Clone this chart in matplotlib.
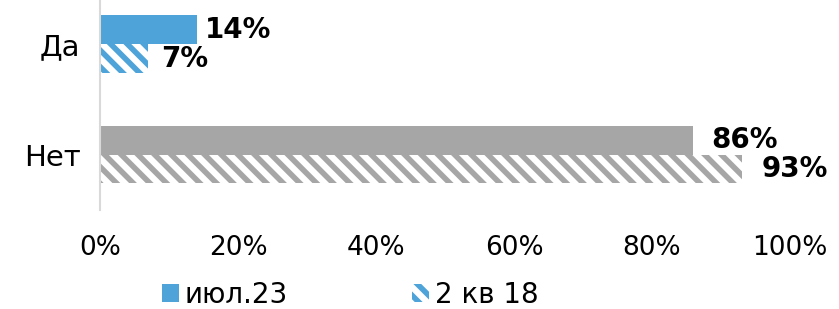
import numpy as np
import matplotlib
matplotlib.use('Agg')
import matplotlib.pyplot as plt
from matplotlib.patches import Patch

# data
categories = ['Да', 'Нет']
jul23 = [14, 86]
q2_18 = [7, 93]
series_names = ['июл.23', '2 кв 18']
cat_colors = ['#4EA3D8', '#A6A6A6']
xticks = [0, 20, 40, 60, 80, 100]

# label offsets (points) as placed in the original
off_jul = [6, 13]
off_q2 = [9, 14]

plt.rcParams['font.family'] = ['DejaVu Sans']
plt.rcParams['hatch.linewidth'] = 4

fig = plt.figure(figsize=(8.39, 3.09), dpi=100)
ax = fig.add_axes([100 / 839, 1 - 210 / 309, 690 / 839, 210 / 309])

y = np.arange(len(categories))
h = 0.26
ax.barh(y - h / 2, jul23, height=h, color=cat_colors, linewidth=0)
ax.barh(y + h / 2, q2_18, height=h, color='white', edgecolor=cat_colors,
        hatch='\\\\', linewidth=0)

for i in range(len(categories)):
    ax.annotate(f'{jul23[i]}%', (jul23[i], y[i] - h / 2), xytext=(off_jul[i], 0),
                textcoords='offset points', va='center', ha='left',
                fontsize=20, fontweight='bold')
    ax.annotate(f'{q2_18[i]}%', (q2_18[i], y[i] + h / 2), xytext=(off_q2[i], 0),
                textcoords='offset points', va='center', ha='left',
                fontsize=20, fontweight='bold')

ax.set_xlim(0, 100)
ax.set_ylim(1.5, -0.4)
ax.set_xticks(xticks)
ax.set_xticklabels([f'{t}%' for t in xticks], fontsize=19)
ax.set_yticks(y)
ax.set_yticklabels(categories, fontsize=21)
ax.tick_params(axis='both', length=0)
ax.tick_params(axis='x', pad=18)
ax.tick_params(axis='y', pad=14)
for s in ['top', 'right', 'bottom']:
    ax.spines[s].set_visible(False)
ax.spines['left'].set_color('#D9D9D9')
ax.spines['left'].set_linewidth(1.5)

handles = [Patch(facecolor=cat_colors[0], linewidth=0),
           Patch(facecolor='white', edgecolor=cat_colors[0], hatch='\\\\', linewidth=0)]
fig.legend(handles, series_names, loc='center', bbox_to_anchor=(350 / 839, 1 - 295 / 309),
           ncol=2, frameon=False, fontsize=20, handlelength=0.6, handleheight=0.6,
           handletextpad=0.2, columnspacing=4.5)

fig.savefig('out.png', dpi=100)
